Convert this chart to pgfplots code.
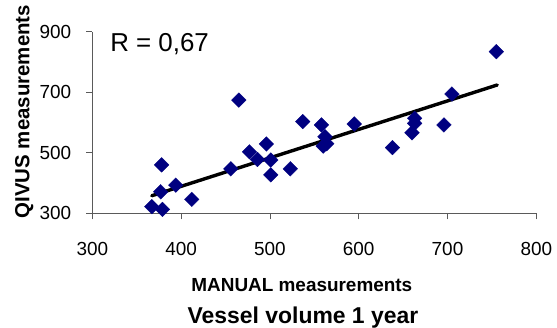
\documentclass[border=0pt]{standalone}
\usepackage{pgfplots}
\pgfplotsset{compat=1.18}
\usepackage{fontspec}
\setmainfont{Liberation Sans}
\definecolor{navy}{RGB}{0,0,128}
\definecolor{axgray}{RGB}{90,90,90}
\begin{document}
\begin{tikzpicture}
\begin{axis}[
  scale only axis, width=444bp, height=181.6bp,
  xmin=300, xmax=800, ymin=300, ymax=900,
  xtick={300,400,500,600,700,800}, ytick={300,500,700,900},
  axis x line*=bottom, axis y line*=left,
  axis line style={axgray, line width=0.8bp, -},
  tick style={axgray, line width=0.8bp},
  tick align=outside, major tick length=6bp,
  /pgf/number format/assume math mode=true,
  xticklabel style={font=\fontsize{19}{22}\selectfont, inner sep=0pt, anchor=base, yshift=-36.5bp},
  yticklabel style={font=\fontsize{19}{22}\selectfont, inner sep=0pt, anchor=east, xshift=-15bp},
  clip=false,
]
\addplot[only marks, mark=square*, mark size=5.2bp,
  mark options={rotate=45, fill=navy, draw=navy, line width=0.3bp}]
  table {
x y
367 322
379 313
378 460
377 371
394 393
412 346
456 447
465 674
477 503
486 478
496 529
501 476
501 427
523 447
537 603
558 592
562 553
564 530
560 522
595 595
638 517
663 614
663 597
660 566
696 592
705 694
755 834
};
\addplot[black, line width=3.4bp, line cap=round] coordinates {(367,358) (756,724)};
\node[anchor=base west, inner sep=0pt, font=\fontsize{26}{30}\selectfont] at (axis description cs:0.04,0.89) {R = 0,67};
\node[anchor=base, inner sep=0pt, font=\bfseries\fontsize{19}{22}\selectfont] at (axis description cs:0.472,-0.432) {MANUAL measurements};
\node[anchor=base, inner sep=0pt, font=\bfseries\fontsize{23}{27}\selectfont] at (axis description cs:0.4745,-0.606) {Vessel volume 1 year};
\node[anchor=base, rotate=90, inner sep=0pt, font=\bfseries\fontsize{20.5}{24}\selectfont] at (axis description cs:-0.142,0.56) {QIVUS measurements};
\end{axis}
\pgfresetboundingbox
\path[use as bounding box] (-92.3bp,-114.7bp) rectangle (464.7bp,213.3bp);
\end{tikzpicture}
\end{document}
